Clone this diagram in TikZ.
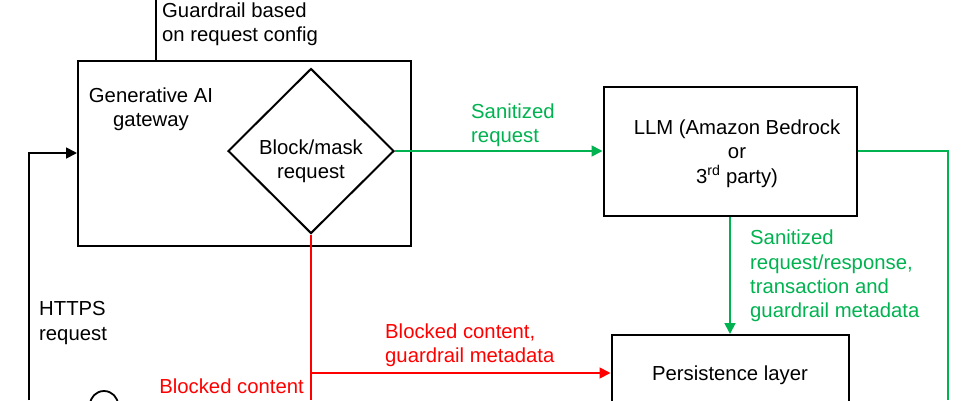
\documentclass[tikz,border=0pt]{standalone}
\usepackage{fontspec}
\setmainfont{Liberation Sans}
\usetikzlibrary{arrows.meta,shapes.geometric}
\definecolor{okgreen}{RGB}{0,178,80}
\definecolor{blockred}{RGB}{255,0,0}
\tikzset{
  box/.style={draw=black, line width=2pt, inner sep=0pt, fill=none},
  txt/.style={inner sep=0pt, align=center, font=\fontsize{20.3}{24.4}\selectfont},
  ltxt/.style={inner sep=0pt, align=left, font=\fontsize{20.3}{24.4}\selectfont},
  conn/.style={line width=1.8pt},
  arr/.style={-{Triangle[length=11pt,width=11pt]}},
}
\begin{document}
\begin{tikzpicture}[x=1pt,y=-1pt]
\useasboundingbox (0,0) rectangle (978,400);
\clip (0,0) rectangle (978,400);
% boxes
\node[box, minimum width=333pt, minimum height=185pt] (gw) at (244.5,153) {};
\node[box, diamond, minimum width=166pt, minimum height=165pt] (dia) at (311,151) {};
\node[box, minimum width=253pt, minimum height=129pt] (llm) at (730,151) {};
\node[box, minimum width=237pt, minimum height=76pt] (pl) at (730,373) {};
\node[draw=black, line width=1.8pt, circle, minimum size=28pt, inner sep=0pt] (user) at (104,405) {};
% texts in boxes
\node[txt] (gwt) at (151,109.5) {Generative AI\\gateway};
\node[txt] (diat) at (311,161) {Block/mask\\request};
\node[txt] (llmt) at (737,153.5) {LLM (Amazon Bedrock\\or\\3\textsuperscript{rd} party)};
\node[txt] (plt) at (730,375) {Persistence layer};
% free ends
\coordinate (gtop) at (156,0);
\coordinate (hin) at (29,400);
\coordinate (rbot) at (311,400);
\coordinate (gbot) at (948,400);
\coordinate (rsplit) at (311,373);
% connectors
\draw[conn] (gtop) -- (gtop |- gw.north);
\draw[conn, arr] (hin) |- (gw.west);
\draw[conn, okgreen, arr] (dia.east) -- (dia.east -| llm.west);
\draw[conn, okgreen, arr] (llm.south) -- (pl.north);
\draw[conn, okgreen] (llm.east) -| (gbot);
\draw[conn, blockred] (dia.south) -- (rbot);
\draw[conn, blockred, arr] (rsplit) -- (rsplit -| pl.west);
% labels
\node[ltxt, anchor=west] (l1) at (162,24) {Guardrail based\\on request config};
\node[ltxt, anchor=west] (l2) at (39,323) {HTTPS\\request};
\node[ltxt, anchor=west, text=okgreen] (l3) at (471,125) {Sanitized\\request};
\node[ltxt, anchor=west, text=okgreen] (l4) at (750,276) {Sanitized\\request/response,\\transaction and\\guardrail metadata};
\node[ltxt, anchor=west, text=blockred] (l5) at (385,345) {Blocked content,\\guardrail metadata};
\node[ltxt, anchor=east, text=blockred] (l6) at (304,386) {Blocked content};
\end{tikzpicture}
\end{document}
